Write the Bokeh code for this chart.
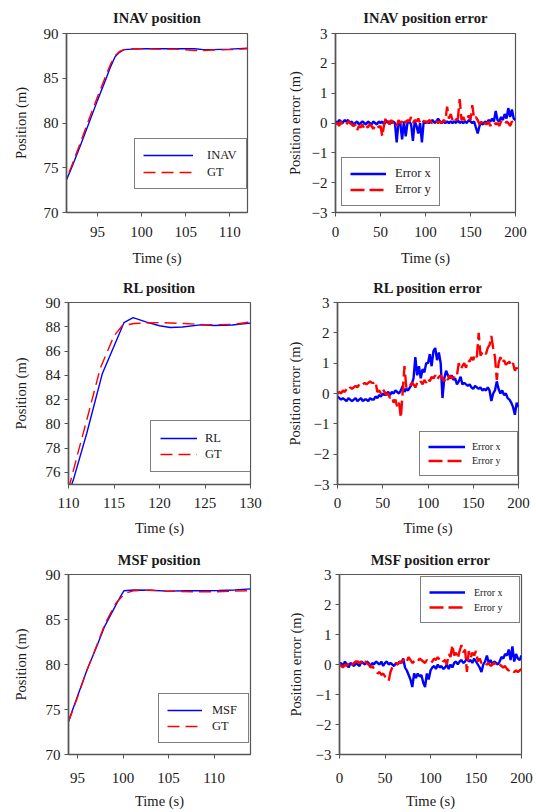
from bokeh.plotting import figure
from bokeh.models import Range1d, FixedTicker, Legend, LegendItem
from bokeh.layouts import column, row
from bokeh.embed import file_html
from bokeh.resources import INLINE

FONT = "Liberation Serif"
BLUE = "#0000FF"
RED = "#FF0000"
FRAME = "#555555"
TXT = "#1a1a1a"

# ---------------- INAV position ----------------
inav_t = [91.0, 92, 93, 94, 95, 96, 96.5, 97, 97.5, 98, 99, 100, 102, 104, 106, 107, 108, 110, 112]
inav_pos = [72.5, 74.8, 77.3, 79.9, 82.5, 85.0, 86.3, 87.4, 87.9, 88.2, 88.25, 88.3, 88.3, 88.3, 88.3, 88.2, 88.2, 88.25, 88.35]
inav_gt = [72.6, 75.0, 77.6, 80.3, 82.9, 85.4, 86.6, 87.5, 88.0, 88.2, 88.3, 88.3, 88.25, 88.25, 88.1, 88.1, 88.15, 88.2, 88.3]

# ---------------- RL position ----------------
rl_t = [110.0, 110.5, 112, 113.7, 115, 116.1, 117.1, 118.5, 120, 121.2, 122.5, 124.5, 126, 128, 130]
rl_pos = [74.3, 75.3, 79.2, 84.1, 86.4, 88.35, 88.76, 88.4, 88.08, 87.94, 87.98, 88.16, 88.1, 88.15, 88.3]
rl_gt_t = [110.0, 111, 112, 113.5, 115, 115.9, 117.2, 120.1, 122.7, 125.2, 128.2, 130]
rl_gt = [74.6, 77.5, 80.3, 84.6, 87.25, 88.08, 88.27, 88.35, 88.27, 88.16, 88.2, 88.4]

# ---------------- MSF position ----------------
msf_t = [94.0, 95, 96, 97.1, 98, 99.2, 99.8, 100.1, 101.2, 103, 104.9, 107, 108.6, 110.5, 112.3, 114]
msf_pos = [73.7, 76.5, 79.3, 82.0, 84.3, 86.6, 87.7, 88.2, 88.27, 88.25, 88.15, 88.2, 88.2, 88.22, 88.27, 88.4]
msf_gt_t = [94.0, 95, 96, 97.1, 98, 99.2, 100.2, 101.2, 103, 104.9, 107.9, 110, 112, 114]
msf_gt = [73.6, 76.4, 79.3, 82.1, 84.5, 86.8, 87.9, 88.2, 88.25, 88.15, 88.08, 88.08, 88.15, 88.2]

# ---------------- errors (sampled every 2 s, 0..200) ----------------
err_t = list(range(0, 201, 2))

inav_ex = [0.05, 0.0, 0.1, 0.05, 0.0, 0.1, 0.05, 0.1, 0.0, 0.05,
           -0.05, 0.0, 0.05, -0.05, 0.0, 0.05, 0.0, -0.05, 0.05, 0.0,
           -0.05, 0.05, 0.0, -0.05, 0.05, 0.0, 0.05, -0.05, 0.1, 0.0,
           0.05, 0.0, 0.05, 0.0, -0.65, 0.05, 0.0, -0.55, 0.05, -0.45,
           0.0, 0.05, -0.05, -0.6, 0.05, -0.1, -0.35, 0.0, -0.65, 0.05,
           0.0, 0.05, 0.0, 0.05, 0.1, 0.0, 0.05, 0.15, 0.05, 0.0,
           0.05, 0.0, 0.05, 0.0, 0.05, 0.0, 0.05, 0.0, 0.1, 0.0,
           0.05, 0.0, 0.05, 0.0, 0.1, 0.05, 0.0, 0.05, -0.15, -0.35,
           -0.1, 0.0, -0.05, 0.05, 0.0, 0.1, 0.05, 0.15, 0.05, 0.4,
           0.1, 0.05, 0.2, 0.1, 0.3, 0.15, 0.5, 0.2, 0.45, 0.15,
           0.1]
inav_ey = [-0.05, 0.0, -0.1, 0.05, -0.05, 0.0, -0.05, 0.05, 0.0, -0.05,
           -0.1, -0.05, -0.25, -0.1, -0.15, -0.05, -0.2, -0.1, -0.15, -0.05,
           -0.1, -0.2, -0.1, -0.05, -0.15, -0.1, -0.45, -0.05, 0.2, 0.05,
           -0.05, 0.1, 0.0, 0.05, -0.1, 0.1, 0.0, 0.05, 0.15, 0.0,
           0.1, 0.05, 0.2, 0.0, 0.1, 0.05, 0.15, 0.0, 0.1, 0.05,
           0.05, 0.0, 0.1, 0.05, -0.05, 0.0, 0.05, 0.0, 0.05, 0.0,
           0.1, 0.05, 0.55, 0.15, 0.3, 0.1, 0.2, 0.1, 0.15, 0.8,
           0.1, 0.2, 0.05, 0.15, 0.25, 0.1, 0.6, 0.15, 0.2, 0.1,
           -0.05, 0.05, -0.1, 0.0, -0.05, 0.05, -0.1, 0.0, 0.05, -0.05,
           0.0, -0.1, 0.05, 0.0, -0.05, 0.05, 0.0, -0.1, 0.05, 0.0,
           -0.05]

rl_ex = [-0.1, -0.15, -0.2, -0.15, -0.2, -0.25, -0.15, -0.2, -0.25, -0.2,
         -0.15, -0.25, -0.2, -0.15, -0.25, -0.2, -0.2, -0.25, -0.15, -0.2,
         -0.2, -0.1, -0.15, -0.05, -0.1, 0.0, -0.05, 0.0, 0.05, -0.05,
         0.05, 0.0, 0.1, 0.05, 0.0, 0.1, 0.25, 0.05, 0.15, 0.1,
         0.2, 0.3, 0.5, 1.2, 0.6, 0.9, 0.5, 0.8, 0.7, 1.0,
         1.0, 1.3, 0.9, 1.4, 1.5, 1.1, 1.35, 1.0, -0.15, 0.5,
         0.75, 0.6, 0.5, 0.6, 0.45, 0.5, 0.3, 0.4, 0.55, 0.3,
         0.35, 0.3, 0.25, 0.3, 0.2, 0.15, 0.25, 0.2, 0.15, 0.2,
         0.1, 0.15, 0.1, 0.2, 0.1, -0.25, 0.0, 0.1, 0.4, 0.15,
         0.0, 0.1, -0.05, 0.0, -0.15, -0.2, -0.3, -0.45, -0.7, -0.3,
         -0.45]
rl_ey = [0.0, 0.05, 0.0, 0.1, 0.05, 0.15, 0.1, 0.2, 0.15, 0.2,
         0.25, 0.2, 0.3, 0.25, 0.3, 0.35, 0.3, 0.35, 0.4, 0.35,
         0.35, 0.4, 0.05, 0.1, 0.0, 0.15, 0.05, -0.05, 0.0, -0.15,
         -0.1, -0.3, -0.2, -0.45, -0.3, -0.8, 0.05, 0.9, 0.2, 0.3,
         0.25, 0.35, 0.3, 0.2, 0.35, 0.3, 0.4, 0.3, 0.45, 0.35,
         0.5, 0.4, 0.55, 0.5, 0.6, 0.45, 0.55, 0.6, 0.5, 0.4,
         0.55, 0.45, 0.6, 0.5, 0.55, 0.5, 0.6, 1.0, 0.8, 0.9,
         1.0, 0.85, 1.1, 1.05, 1.2, 1.1, 1.3, 1.2, 2.0, 1.25,
         1.35, 1.4, 1.3, 1.5, 1.6, 1.9, 1.5, 1.2, 0.45, 1.0,
         1.2, 1.0, 1.1, 0.95, 1.0, 1.05, 0.9, 1.0, 0.75, 0.85,
         0.7]

msf_ex = [0.0, 0.05, -0.05, 0.1, 0.0, -0.1, 0.05, 0.0, -0.05, 0.05,
          0.0, -0.05, 0.1, 0.05, 0.0, 0.1, 0.05, -0.05, 0.05, 0.0,
          0.1, 0.05, 0.0, 0.1, -0.05, 0.05, 0.1, 0.0, 0.05, 0.0,
          -0.05, 0.05, 0.0, 0.1, 0.05, 0.2, -0.1, -0.2, -0.35, -0.5,
          -0.75, -0.3, -0.45, -0.3, -0.4, -0.35, -0.6, -0.75, -0.3, -0.5,
          -0.2, -0.1, -0.05, -0.15, 0.0, -0.1, -0.05, -0.15, -0.1, 0.0,
          -0.15, 0.0, -0.1, 0.05, 0.1, 0.0, 0.1, 0.15, 0.05, 0.1,
          0.2, 0.1, 0.15, 0.05, 0.2, 0.1, 0.0, -0.1, -0.25, 0.0,
          0.1, 0.3, 0.05, 0.15, 0.0, 0.1, 0.05, 0.0, 0.1, 0.25,
          0.2, 0.35, 0.3, 0.5, 0.15, 0.6, 0.1, 0.35, 0.2, 0.15,
          0.3]
msf_ey = [0.0, -0.05, -0.1, 0.0, -0.05, 0.05, -0.05, 0.0, 0.05, 0.1,
          0.1, 0.05, 0.1, 0.0, 0.1, 0.05, 0.0, -0.1, -0.05, -0.15,
          -0.2, -0.3, -0.25, -0.35, -0.3, -0.4, -0.45, -0.55, -0.25, -0.1,
          0.0, 0.05, 0.0, 0.1, 0.05, 0.15, 0.2, 0.1, 0.25, 0.15,
          0.05, 0.1, 0.15, 0.1, 0.2, 0.15, 0.1, 0.05, 0.15, 0.1,
          0.05, 0.1, 0.2, 0.15, 0.25, 0.15, 0.2, 0.1, 0.15, 0.0,
          0.35, 0.25, 0.65, 0.3, 0.4, 0.2, 0.45, 0.65, 0.4, 0.5,
          -0.25, 0.45, 0.2, 0.4, 0.3, 0.45, 0.1, 0.2, 0.05, 0.0,
          0.05, 0.0, 0.05, -0.05, 0.0, 0.05, 0.0, -0.05, 0.0, -0.05,
          -0.1, -0.05, -0.15, -0.2, -0.15, -0.2, -0.25, -0.2, -0.25, -0.2,
          -0.15]

pos_yticks = [70, 75, 80, 85, 90]
rl_yticks = [76, 78, 80, 82, 84, 86, 88, 90]
err_xticks = [0, 50, 100, 150, 200]
err_yticks = [-3, -2, -1, 0, 1, 2, 3]


def make_fig(title, xr, yr, xticks, yticks, ylabel, width, height, bl, br, bt, bb,
             title_so, x_so, x_als, y_als):
    p = figure(width=width, height=height, x_range=Range1d(*xr), y_range=Range1d(*yr),
               output_backend="svg", toolbar_location=None, title=title,
               min_border_left=bl, min_border_right=br, min_border_top=bt, min_border_bottom=bb)
    p.title.align = "center"
    p.title.text_font = FONT
    p.title.text_font_size = "14.5px"
    p.title.text_font_style = "bold"
    p.title.text_color = TXT
    p.title.standoff = title_so
    p.xgrid.visible = False
    p.ygrid.visible = False
    p.outline_line_color = FRAME
    p.outline_line_width = 1.2
    p.background_fill_color = "white"
    p.border_fill_color = "white"
    p.xaxis.ticker = FixedTicker(ticks=xticks)
    p.yaxis.ticker = FixedTicker(ticks=yticks)
    p.xaxis.axis_label = "Time (s)"
    p.yaxis.axis_label = ylabel
    for ax in (p.xaxis[0], p.yaxis[0]):
        ax.axis_line_color = FRAME
        ax.axis_line_width = 1.6
        ax.major_tick_line_color = FRAME
        ax.major_tick_out = 4
        ax.major_tick_in = 0
        ax.minor_tick_line_color = None
        ax.major_label_text_font = FONT
        ax.major_label_text_font_size = "15px"
        ax.major_label_text_color = TXT
        ax.axis_label_text_font = FONT
        ax.axis_label_text_font_size = "14.5px"
        ax.axis_label_text_font_style = "normal"
        ax.axis_label_text_color = TXT
    p.xaxis[0].major_label_standoff = x_so
    p.xaxis[0].axis_label_standoff = x_als
    p.yaxis[0].major_label_standoff = 4
    p.yaxis[0].axis_label_standoff = y_als
    return p


def add_legend(p, items, loc, glyph_w, standoff, label_w, row_h, pad, spacing, fsize):
    leg = Legend(items=[LegendItem(label=l, renderers=[r]) for l, r in items],
                 location=loc, margin=0, padding=pad, spacing=spacing,
                 glyph_width=glyph_w, glyph_height=row_h, label_height=row_h,
                 label_width=label_w, label_standoff=standoff,
                 label_text_font=FONT, label_text_font_size=fsize, label_text_color=TXT,
                 border_line_color="black", border_line_width=1.2,
                 background_fill_color="white", background_fill_alpha=1.0)
    p.add_layout(leg)


# Row 1
p1 = make_fig("INAV position", (91.5, 112), (70, 90), [95, 100, 105, 110], pos_yticks,
              "Position (m)", 268, 270, 66, 21, 33, 58, 15, 10, 10, 12)
r1a = p1.line(inav_t, inav_pos, line_color=BLUE, line_width=1.4)
r1b = p1.line(inav_t, inav_gt, line_color=RED, line_width=1.4, line_dash="12 6")
add_legend(p1, [("INAV", r1a), ("GT", r1b)], (68, 23), 50, 14, 31, 16, 8, 1, "12.5px")

p2 = make_fig("INAV position error", (0, 200), (-3, 3), err_xticks, err_yticks,
              "Position error (m)", 268, 270, 67, 21, 33, 58, 15, 10, 10, 6)
r2a = p2.line(err_t, inav_ex, line_color=BLUE, line_width=2.4)
r2b = p2.line(err_t, inav_ey, line_color=RED, line_width=2.4, line_dash="14 5")
add_legend(p2, [("Error x", r2a), ("Error y", r2b)], (6, 6), 36, 9, 31, 15, 8, 1, "12.5px")

# Row 2
p3 = make_fig("RL position", (110, 130), (75, 90), [110, 115, 120, 125, 130], rl_yticks,
              "Position (m)", 268, 270, 68, 18, 32, 56, 14, 9, 9, 14)
r3a = p3.line(rl_t, rl_pos, line_color=BLUE, line_width=1.4)
r3b = p3.line(rl_gt_t, rl_gt, line_color=RED, line_width=1.4, line_dash="12 6")
add_legend(p3, [("RL", r3a), ("GT", r3b)], (82, 12), 37, 8, 37, 16, 9, 0, "12.5px")

p4 = make_fig("RL position error", (0, 200), (-3, 3), err_xticks, err_yticks,
              "Position error (m)", 268, 270, 69, 18, 32, 56, 14, 9, 9, 8)
r4a = p4.line(err_t, rl_ex, line_color=BLUE, line_width=2.4)
r4b = p4.line(err_t, rl_ey, line_color=RED, line_width=2.4, line_dash="14 5")
add_legend(p4, [("Error x", r4a), ("Error y", r4b)], (82, 8), 37, 7, 37, 13, 8, 1, "10px")

# Row 3
p5 = make_fig("MSF position", (94, 114), (70, 90), [95, 100, 105, 110], pos_yticks,
              "Position (m)", 268, 272, 68, 18, 34, 58, 13, 14, 7, 14)
r5a = p5.line(msf_t, msf_pos, line_color=BLUE, line_width=1.4)
r5b = p5.line(msf_gt_t, msf_gt, line_color=RED, line_width=1.4, line_dash="12 6")
add_legend(p5, [("MSF", r5a), ("GT", r5b)], (90, 11), 35, 10, 28, 16, 8, 0, "12.5px")

p6 = make_fig("MSF position error", (0, 200), (-3, 3), err_xticks, err_yticks,
              "Position error (m)", 268, 272, 71, 15, 34, 58, 13, 14, 7, 9)
r6a = p6.line(err_t, msf_ex, line_color=BLUE, line_width=2.4)
r6b = p6.line(err_t, msf_ey, line_color=RED, line_width=2.4, line_dash="14 5")
add_legend(p6, [("Error x", r6a), ("Error y", r6b)], (81, 131), 36, 9, 37, 14, 8, 1, "10px")

layout = column(row(p1, p2), row(p3, p4), row(p5, p6))

open("out.html", "w").write(file_html(layout, INLINE))
